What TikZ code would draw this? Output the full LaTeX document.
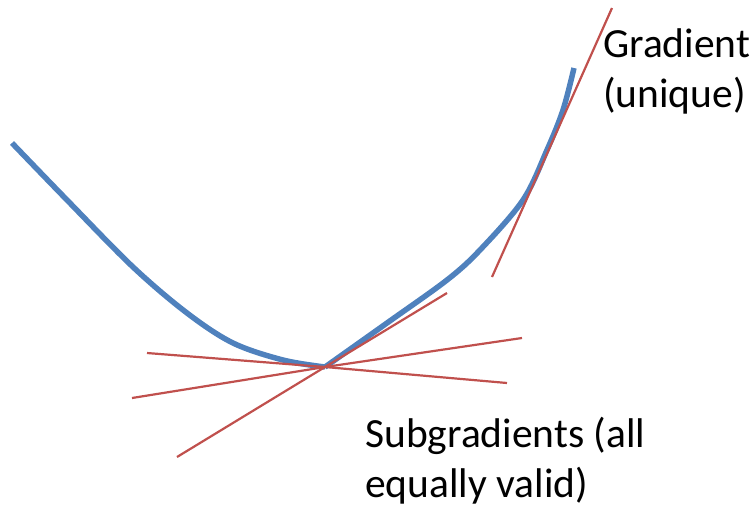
\documentclass[tikz,border=0pt]{standalone}
\usepackage{fontspec}
\setmainfont{Carlito}
\definecolor{curveblue}{HTML}{4F81BD}
\definecolor{tanred}{HTML}{C0504D}
\begin{document}
\begin{tikzpicture}[x=1pt,y=-1pt,
  curve/.style={draw=curveblue,line width=5.5pt},
  tangent/.style={draw=tanred,line width=2.2pt},
  lbl/.style={inner sep=0pt,align=left,font=\fontsize{41.5}{50}\selectfont,anchor=base west}]
\useasboundingbox (0,0) rectangle (753,507);
\coordinate (k) at (325,367);
\draw[curve] plot[smooth,tension=0.55] coordinates {(12,143) (67,200) (133,267) (187,313) (233,343) (283,360) (325,367)};
\draw[curve] plot[smooth,tension=0.55] coordinates {(325,367) (387,323) (447,280) (480,250) (523,200) (547,150) (563,110) (574,68)};
\draw[tangent] (612,8) -- (492,277);
\draw[tangent] (147,353) -- (k) -- (507,383);
\draw[tangent] (132,398) -- (k) -- (522,338);
\draw[tangent] (177,457) -- (k) -- (447,293);
\node[lbl] (grad) at (603,107.5) {Gradient\\(unique)};
\node[lbl] (sub) at (365,497) {Subgradients (all\\equally valid)};
\end{tikzpicture}
\end{document}
